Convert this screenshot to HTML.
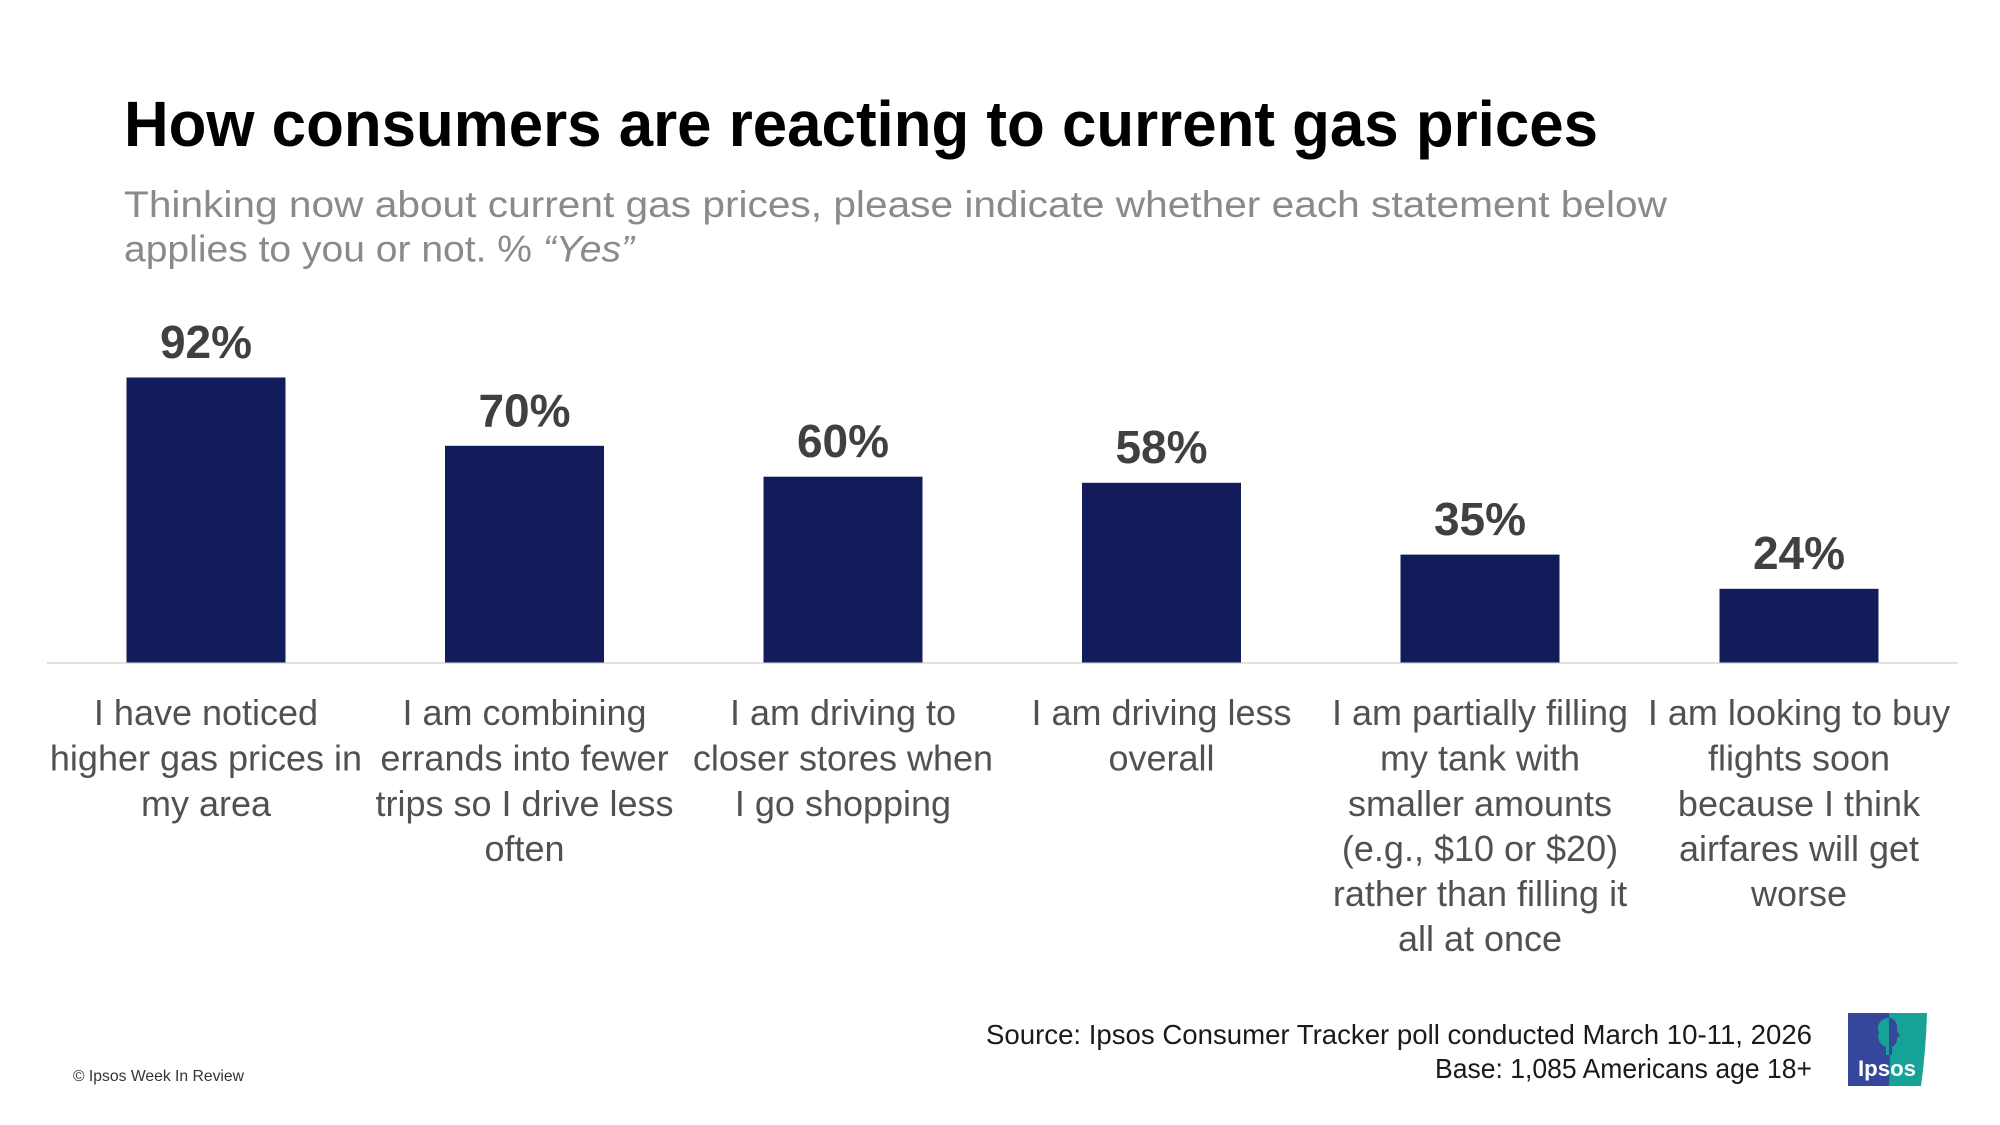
<!DOCTYPE html>
<html>
<head>
<meta charset="utf-8">
<style>
  html,body{margin:0;padding:0;background:#fff;}
  svg{display:block;}
  text{font-family:"Liberation Sans", Arial, sans-serif;}
</style>
</head>
<body>
<svg width="2000" height="1125" viewBox="0 0 2000 1125" xmlns="http://www.w3.org/2000/svg">
  <rect x="0" y="0" width="2000" height="1125" fill="#ffffff"/>

  <!-- Title -->
  <text x="124" y="146" font-size="64" font-weight="bold" fill="#000" textLength="1474" lengthAdjust="spacingAndGlyphs">How consumers are reacting to current gas prices</text>

  <!-- Subtitle -->
  <text x="124" y="217" font-size="37" fill="#8a8a8a" textLength="1543" lengthAdjust="spacingAndGlyphs">Thinking now about current gas prices, please indicate whether each statement below</text>
  <text x="124" y="261.5" font-size="37" fill="#8a8a8a" textLength="510" lengthAdjust="spacingAndGlyphs">applies to you or not. % <tspan font-style="italic">“Yes”</tspan></text>

  <!-- Axis line -->
  <rect x="47" y="662" width="1911" height="2" fill="#e2e2e2"/>

  <!-- Bars -->
  <g fill="#121c5a">
    <rect x="126.5" y="377.5" width="159" height="285"/>
    <rect x="445" y="445.8" width="159" height="216.7"/>
    <rect x="763.5" y="476.7" width="159" height="185.8"/>
    <rect x="1082" y="482.8" width="159" height="179.7"/>
    <rect x="1400.5" y="554.6" width="159" height="107.9"/>
    <rect x="1719.5" y="588.8" width="159" height="73.7"/>
  </g>

  <!-- Value labels -->
  <g font-size="46" font-weight="bold" fill="#404040" text-anchor="middle">
    <text x="206" y="358">92%</text>
    <text x="524.5" y="426.5">70%</text>
    <text x="843" y="457">60%</text>
    <text x="1161.5" y="463">58%</text>
    <text x="1480" y="535">35%</text>
    <text x="1799" y="569">24%</text>
  </g>

  <!-- Category labels -->
  <g font-size="36" fill="#515151" text-anchor="middle">
    <text x="206" y="725">I have noticed</text>
    <text x="206" y="770.5">higher gas prices in</text>
    <text x="206" y="816">my area</text>

    <text x="524.5" y="725">I am combining</text>
    <text x="524.5" y="770.5">errands into fewer</text>
    <text x="524.5" y="816">trips so I drive less</text>
    <text x="524.5" y="861">often</text>

    <text x="843" y="725">I am driving to</text>
    <text x="843" y="770.5">closer stores when</text>
    <text x="843" y="816">I go shopping</text>

    <text x="1161.5" y="725">I am driving less</text>
    <text x="1161.5" y="770.5">overall</text>

    <text x="1480" y="725">I am partially filling</text>
    <text x="1480" y="770.5">my tank with</text>
    <text x="1480" y="816">smaller amounts</text>
    <text x="1480" y="861">(e.g., $10 or $20)</text>
    <text x="1480" y="906">rather than filling it</text>
    <text x="1480" y="951">all at once</text>

    <text x="1799" y="725">I am looking to buy</text>
    <text x="1799" y="770.5">flights soon</text>
    <text x="1799" y="816">because I think</text>
    <text x="1799" y="861">airfares will get</text>
    <text x="1799" y="906">worse</text>
  </g>

  <!-- Source -->
  <text x="1812" y="1044" font-size="28" fill="#1a1a1a" text-anchor="end" textLength="826" lengthAdjust="spacingAndGlyphs">Source: Ipsos Consumer Tracker poll conducted March 10-11, 2026</text>
  <text x="1812" y="1078" font-size="28" fill="#1a1a1a" text-anchor="end" textLength="377" lengthAdjust="spacingAndGlyphs">Base: 1,085 Americans age 18+</text>

  <!-- Copyright -->
  <text x="73" y="1081" font-size="16" fill="#333" textLength="171" lengthAdjust="spacingAndGlyphs">© Ipsos Week In Review</text>

  <!-- Logo -->
  <rect x="1848" y="1013" width="44" height="73" fill="#34479b"/>
  <path d="M1889 1013 L1927 1013 Q1926 1050 1921 1086 L1889 1086 Q1891 1050 1889 1013 Z" fill="#17a297"/>
  <path d="M1889 1018 C1880 1018 1876 1026 1879 1033 C1876 1040 1882 1046 1886 1047 L1886 1055 L1890 1055 Z" fill="#17a297"/>
  <path d="M1889 1018 C1896 1018 1898 1026 1897 1031 L1900 1036 L1897 1038 C1897 1044 1894 1046 1892 1047 L1892 1055 L1889 1055 Z" fill="#34479b"/>
  <text x="1858" y="1076" font-size="22" font-weight="bold" fill="#fff" textLength="58" lengthAdjust="spacingAndGlyphs">Ipsos</text>
</svg>
</body>
</html>
